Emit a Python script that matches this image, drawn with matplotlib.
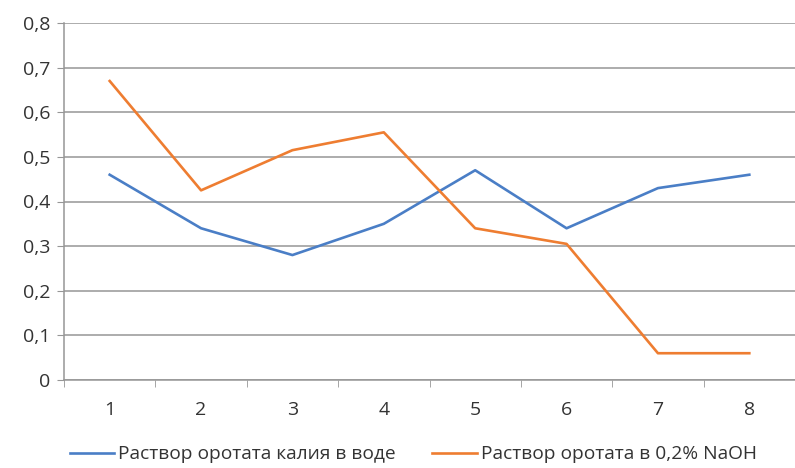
import matplotlib
matplotlib.use("Agg")
import matplotlib.pyplot as plt
from matplotlib.ticker import FuncFormatter

plt.rcParams['font.family'] = ['Open Sans', 'DejaVu Sans']

samples = [1, 2, 3, 4, 5, 6, 7, 8]
water = [0.46, 0.34, 0.28, 0.35, 0.47, 0.34, 0.43, 0.46]
naoh = [0.67, 0.425, 0.515, 0.555, 0.34, 0.305, 0.06, 0.06]
label_water = "Раствор оротата калия в воде"
label_naoh = "Раствор оротата в 0,2% NaOH"
yticks = [0, 0.1, 0.2, 0.3, 0.4, 0.5, 0.6, 0.7, 0.8]

fig = plt.figure(figsize=(7.95, 4.68), dpi=100)
ax = fig.add_axes([64 / 795, 1 - 380 / 468, 1 - 64 / 795, (380 - 23) / 468])

ax.plot(samples, water, color='#4A7EC6', lw=1.9, label=label_water)
ax.plot(samples, naoh, color='#EE7D31', lw=1.9, label=label_naoh)

ax.set_xlim(0.5, 8.5)
ax.set_ylim(0, 0.8)
ax.set_xticks(samples)
ax.set_yticks(yticks)
ax.yaxis.set_major_formatter(FuncFormatter(
    lambda v, _: '0' if abs(v) < 1e-9 else f"{v:.1f}".replace('.', ',')))

ax.grid(axis='y', color='#969696', lw=1.1)
ax.set_axisbelow(True)
for s in ['top', 'right']:
    ax.spines[s].set_visible(False)
for s in ['left', 'bottom']:
    ax.spines[s].set_color('#969696')
    ax.spines[s].set_linewidth(1.1)

# category ticks sit between the points
ax.set_xticks([x + 0.5 for x in [0] + samples], minor=True)
ax.tick_params(axis='x', which='major', length=0, pad=15, labelsize=14, colors='#333333')
ax.tick_params(axis='x', which='minor', length=5, color='#969696', direction='out')
ax.tick_params(axis='y', length=5, pad=5, labelsize=14, color='#969696', labelcolor='#333333')

fig.legend(loc='lower center', ncol=2, frameon=False, bbox_to_anchor=(0.52, -0.027),
           fontsize=13.8, handlelength=2.3, columnspacing=1.9, handletextpad=0.25,
           labelcolor='#333333')

fig.savefig('out.png', dpi=100)
